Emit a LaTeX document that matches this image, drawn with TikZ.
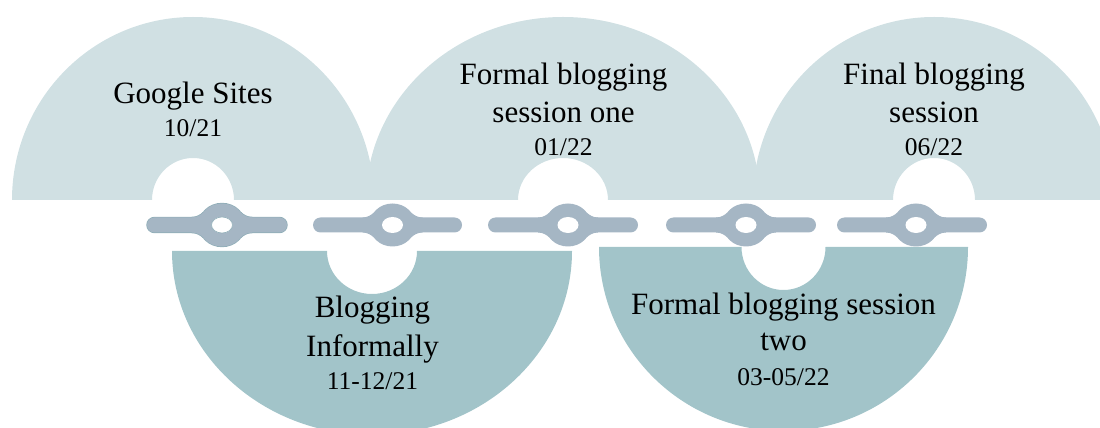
\documentclass[tikz,border=0pt]{standalone}
\usepackage{fontspec}
\setmainfont{Liberation Serif}
\definecolor{upperfill}{HTML}{D0E0E3}
\definecolor{lowerfill}{HTML}{A2C4C9}
\definecolor{linkfill}{HTML}{A5B6C4}
\definecolor{linkedge}{HTML}{8EADB7}
\tikzset{
  titletext/.style={font=\fontsize{31}{38}\selectfont, anchor=base, inner sep=0pt, text=black},
  datetext/.style={font=\fontsize{25.5}{31}\selectfont, anchor=base, inner sep=0pt, text=black},
  linkbody/.style={fill=linkfill},
  linkrim/.style={draw=linkedge, line width=1.4pt},
}
% body of one chain link: bar from #2 to #3 (outer ends), knob centred at #4, on the line y = 203
\newcommand\linkshape[4]{%
  \path[#1] ({#2+7.5},195.5) -- ({#3-7.5},195.5) arc[start angle=-90,end angle=90,radius=7.5]
        -- ({#2+7.5},210.5) arc[start angle=90,end angle=270,radius=7.5] -- cycle;
  \path[#1] ({#4},203) ellipse[x radius=23,y radius=21.5];
  \path[#1] ({#4-30},210.5) .. controls ({#4-25},210.5) and ({#4-21.5},213) .. ({#4-19},215.1)
        -- ({#4+19},215.1) .. controls ({#4+21.5},213) and ({#4+25},210.5) .. ({#4+30},210.5)
        -- ({#4+30},195.5) .. controls ({#4+25},195.5) and ({#4+21.5},193) .. ({#4+19},190.9)
        -- ({#4-19},190.9) .. controls ({#4-21.5},193) and ({#4-25},195.5) .. ({#4-30},195.5) -- cycle;
}
\newcommand\chainlink[3]{%
  \linkshape{linkbody}{#1}{#2}{#3}
  \fill[white] ({#3},203) ellipse[x radius=10.5,y radius=8];
}
\begin{document}
\begin{tikzpicture}[x=1pt,y=1pt]
\useasboundingbox (0,0) rectangle (1100,428);
\clip (0,0) rectangle (1100,428);

% upper half rings
\fill[upperfill] (12,228) arc[start angle=180,end angle=0,x radius=181,y radius=183]
  -- (234,228) arc[start angle=0,end angle=180,x radius=41,y radius=42] -- cycle;
\fill[upperfill] (366,228) arc[start angle=180,end angle=0,x radius=197,y radius=183]
  -- (608,228) arc[start angle=0,end angle=180,x radius=45,y radius=42] -- cycle;
\fill[upperfill] (753,228) arc[start angle=180,end angle=0,x radius=181,y radius=183]
  -- (975,228) arc[start angle=0,end angle=180,x radius=41,y radius=42] -- cycle;

% lower half rings
\fill[lowerfill] (172,177) arc[start angle=180,end angle=360,x radius=200,y radius=184]
  -- (417,177) arc[start angle=360,end angle=180,x radius=45,y radius=43] -- cycle;
\fill[lowerfill] (599,181) arc[start angle=180,end angle=360,x radius=184.5,y radius=184]
  -- (825.5,181) arc[start angle=360,end angle=180,x radius=42,y radius=43] -- cycle;

% chain; the first link has a thin rim
\linkshape{linkrim}{147}{287}{222}
\chainlink{147}{287}{222}
\draw[linkedge, line width=0.6pt, fill=white] (222,203) ellipse[x radius=10.5,y radius=8];
\chainlink{313}{462}{392.5}
\chainlink{488}{638}{568}
\chainlink{666}{816}{746}
\chainlink{837}{987}{916}

% labels
\node[titletext] (gs) at (193,324) {Google Sites};
\node[datetext] (gsd) at (193,291) {10/21};

\node[titletext] (fa) at (563.5,343) {Formal blogging};
\node[titletext] (fb) at (563.5,305) {session one};
\node[datetext] (fd) at (563.5,272) {01/22};

\node[titletext] (na) at (934,343) {Final blogging};
\node[titletext] (nb) at (934,305) {session};
\node[datetext] (nd) at (934,272) {06/22};

\node[titletext] (ba) at (372.5,110) {Blogging};
\node[titletext] (bb) at (372.5,71) {Informally};
\node[datetext] (bd) at (372.5,38) {11-12/21};

\node[titletext] (ta) at (783.5,113) {Formal blogging session};
\node[titletext] (tb) at (783.5,77) {two};
\node[datetext] (td) at (783.5,42) {03-05/22};
\end{tikzpicture}
\end{document}
